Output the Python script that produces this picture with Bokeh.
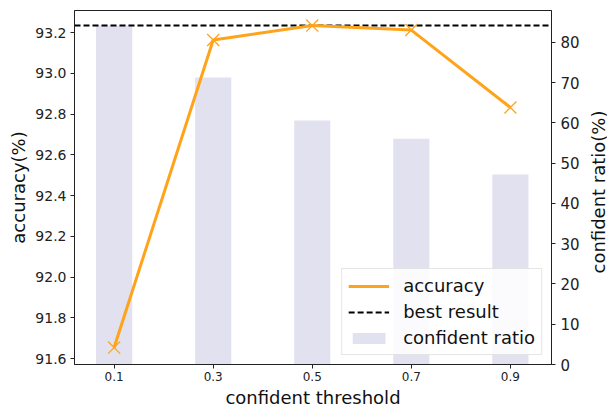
from bokeh.plotting import figure
from bokeh.layouts import row
from bokeh.models import Range1d, LinearAxis, Legend, LegendItem, FixedTicker, CustomJSTickFormatter, Div
from bokeh.embed import file_html
from bokeh.resources import INLINE

thresholds = [0.1, 0.3, 0.5, 0.7, 0.9]
accuracy = [91.654, 93.163, 93.234, 93.212, 92.832]
confident_ratio = [84.2, 71.3, 60.6, 56.1, 47.2]
acc_ticks = [91.6, 91.8, 92.0, 92.2, 92.4, 92.6, 92.8, 93.0, 93.2]
ratio_ticks = [0, 10, 20, 30, 40, 50, 60, 70, 80]
best = max(accuracy)

FONT = "DejaVu Sans"
ORANGE = "#FFA41A"
BAR = "#e2e1ef"

x_start, x_end = 0.02, 0.983
y_start, y_end = 91.571, 93.308

p = figure(width=584, height=410, output_backend="svg", toolbar_location=None,
           x_range=Range1d(x_start, x_end), y_range=Range1d(y_start, y_end),
           min_border_left=74, min_border_right=33, min_border_top=10, min_border_bottom=46)
p.extra_y_ranges = {"ratio": Range1d(0, 87.95)}

p.xgrid.visible = False
p.ygrid.visible = False
p.outline_line_color = "#222222"
p.outline_line_width = 1
p.background_fill_color = "white"
p.border_fill_color = "white"

bars = p.vbar(x=thresholds, top=confident_ratio, width=0.073, y_range_name="ratio",
              fill_color=BAR, line_color=None)
best_line = p.line(x=[x_start, x_end], y=[best, best], line_color="black",
                   line_width=2, line_dash="6 3")
acc_line = p.line(x=thresholds, y=accuracy, line_color=ORANGE, line_width=3)
p.scatter(x=thresholds, y=accuracy, marker="x", size=17, line_color=ORANGE, line_width=1.3)

xa = p.xaxis[0]
xa.ticker = FixedTicker(ticks=thresholds)
xa.formatter = CustomJSTickFormatter(code="return tick.toFixed(1);")
xa.axis_label = "confident threshold"
ya = p.yaxis[0]
ya.ticker = FixedTicker(ticks=acc_ticks)
ya.formatter = CustomJSTickFormatter(code="return tick.toFixed(1);")
ya.axis_label = "accuracy(%)"

ra = LinearAxis(y_range_name="ratio", ticker=FixedTicker(ticks=ratio_ticks))
p.add_layout(ra, "right")

for ax, tsize, std in ((xa, "12px", 3), (ya, "14px", 4), (ra, "15px", 5)):
    ax.axis_line_color = "#222222"
    ax.major_tick_line_color = "#222222"
    ax.major_tick_out = 4
    ax.major_tick_in = 0
    ax.minor_tick_line_color = None
    ax.major_label_text_font = FONT
    ax.major_label_text_font_size = tsize
    ax.major_label_text_color = "#222222"
    ax.axis_label_text_font = FONT
    ax.axis_label_text_font_size = "18px"
    ax.axis_label_text_font_style = "normal"
    ax.axis_label_text_color = "#111111"
    ax.major_label_standoff = std
    ax.axis_label_standoff = 3

legend = Legend(items=[
    LegendItem(label="accuracy", renderers=[acc_line]),
    LegendItem(label="best result", renderers=[best_line]),
    LegendItem(label="confident ratio", renderers=[bars]),
], location="bottom_right")
legend.label_text_font = FONT
legend.label_text_font_size = "18px"
legend.label_text_color = "#111111"
legend.glyph_width = 41
legend.glyph_height = 14
legend.label_standoff = 14
legend.spacing = 5
legend.padding = 6
legend.margin = 9
legend.border_line_color = "#cccccc"
legend.border_line_width = 1
legend.background_fill_alpha = 0.85
p.add_layout(legend)

# right-hand axis title, reading bottom to top as in the reference
right_title = Div(
    text=('<div style="position:absolute; left:10px; top:187px; line-height:1; '
          'transform:translate(-50%,-50%) rotate(-90deg); white-space:nowrap; '
          'font-family:\'DejaVu Sans\'; font-size:18px; color:#111111;">'
          'confident ratio(%)</div>'),
    width=23, height=410, styles={"position": "relative", "overflow": "visible"})

layout = row(p, right_title, spacing=0)
open("out.html", "w").write(file_html(layout, INLINE))
